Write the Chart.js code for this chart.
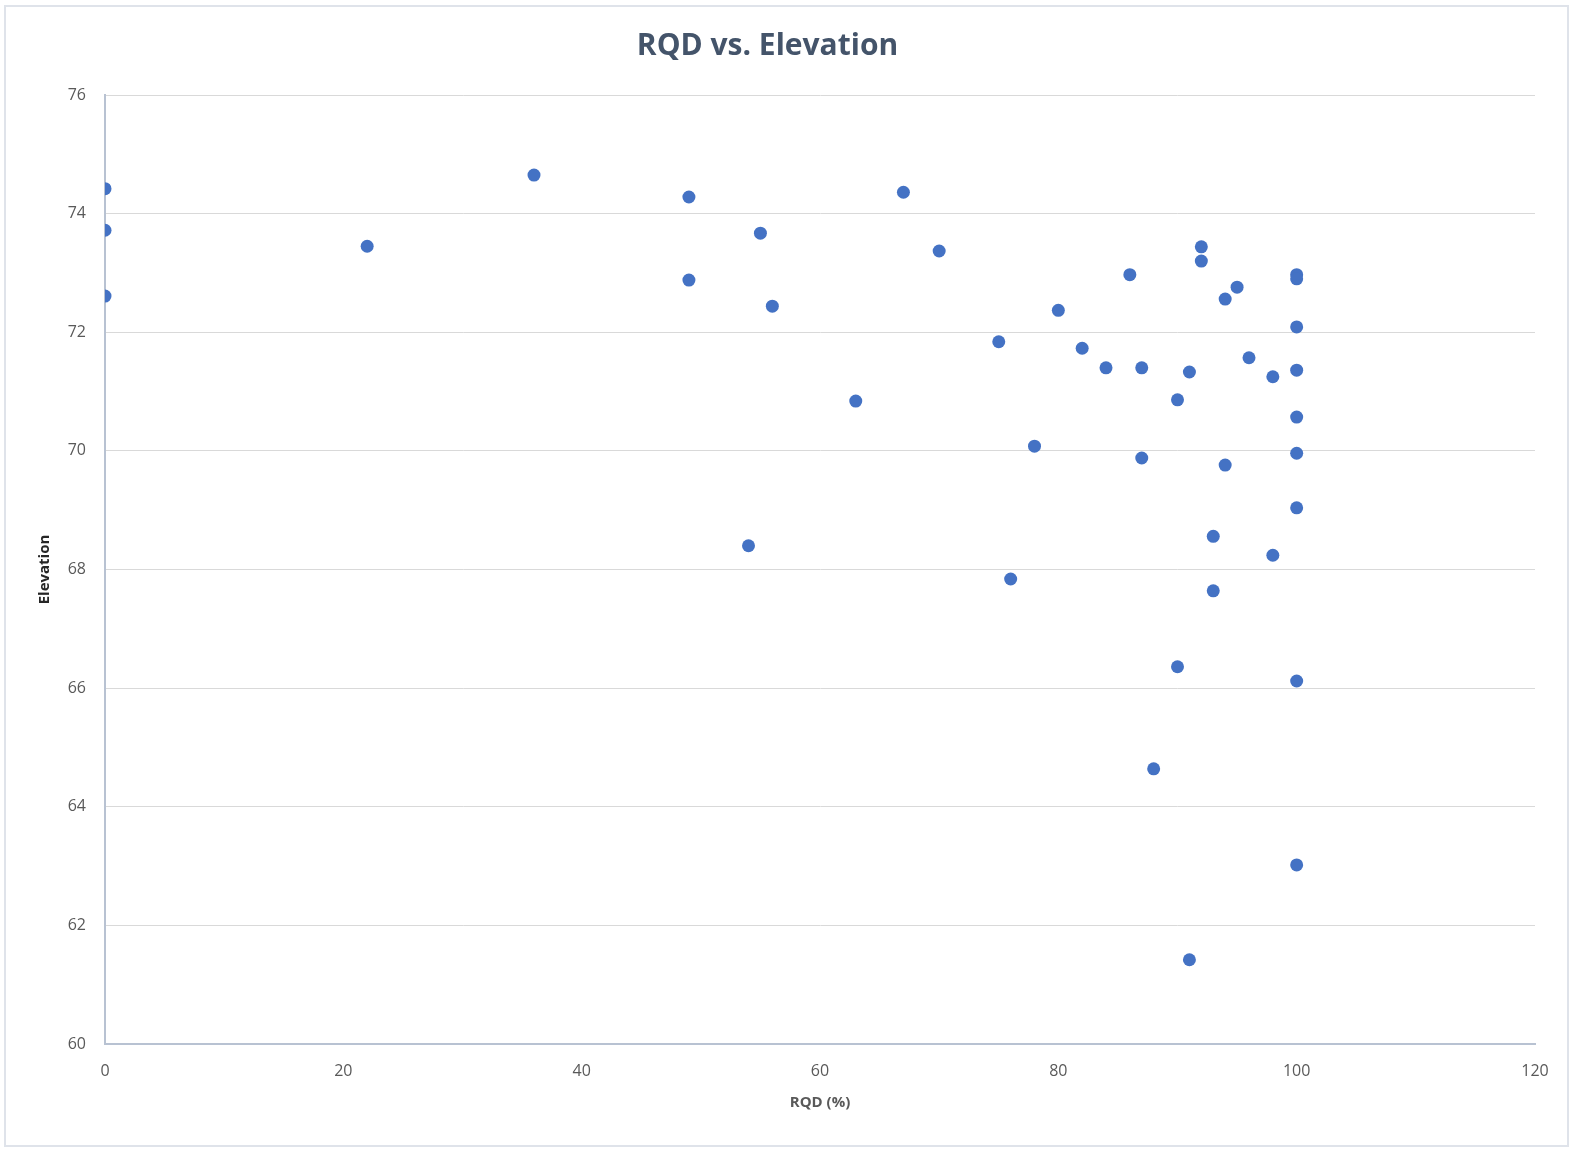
<!DOCTYPE html>
<html>
<head>
<meta charset="utf-8">
<script src="https://cdn.jsdelivr.net/npm/chart.js@4.4.0/dist/chart.umd.min.js"></script>
<style>
  html, body { margin: 0; padding: 0; background: #fff; overflow: hidden; }
  #frame { position: absolute; left: 4px; top: 5px; width: 1561px; height: 1138px; border: 2px solid #dfe3ea; }
  #wrap { position: absolute; left: 0; top: 0; width: 1585px; height: 1160px; }
  canvas { display: block; }
</style>
</head>
<body>
<div id="frame"></div>
<div id="wrap"><canvas id="chart"></canvas></div>
<script>
// RQD (%) et élévation
const rqd = [0, 0, 0, 22, 36, 49, 49, 55, 56, 54, 63, 67, 70, 75, 76, 78, 80, 82, 84, 86, 87, 87, 88, 90, 90, 91, 91, 92, 92, 93, 93, 94, 94, 95, 96, 98, 98, 100, 100, 100, 100, 100, 100, 100, 100, 100];
const elevation = [74.42, 73.72, 72.61, 73.45, 74.65, 74.28, 72.88, 73.67, 72.44, 68.40, 70.84, 74.36, 73.37, 71.84, 67.84, 70.08, 72.37, 71.73, 71.40, 72.97, 71.40, 69.88, 64.64, 70.86, 66.36, 71.33, 61.42, 73.44, 73.20, 68.56, 67.64, 72.56, 69.76, 72.76, 71.57, 71.25, 68.24, 72.97, 72.90, 72.09, 71.36, 70.57, 69.96, 69.04, 66.12, 63.02];
const xTicks = [0, 20, 40, 60, 80, 100, 120];
const yTicks = [60, 62, 64, 66, 68, 70, 72, 74, 76];

document.addEventListener("DOMContentLoaded", () => {
    const points = rqd.map((x, i) => ({ x: x, y: elevation[i] }));
    const ctx = document.getElementById("chart").getContext("2d");

    new Chart(ctx, {
        type: 'scatter',
        data: {
            datasets: [{
                data: points,
                backgroundColor: '#4472C4',
                borderWidth: 0,
                pointRadius: 6.5,
                pointHoverRadius: 6.5
            }]
        },
        options: {
            responsive: true,
            maintainAspectRatio: false,
            animation: false,
            layout: { padding: { left: 0, right: 50, top: 0, bottom: 0 } },
            plugins: {
                legend: { display: false },
                tooltip: { enabled: false },
                title: {
                    display: true,
                    text: 'RQD vs. Elevation',
                    color: '#44546A',
                    font: { family: 'Open Sans', size: 30, weight: 'bold' },
                    padding: { top: 28, bottom: 31 }
                }
            },
            scales: {
                x: {
                    type: 'linear',
                    min: xTicks[0],
                    max: xTicks[xTicks.length - 1],
                    afterBuildTicks: (scale) => { scale.ticks = xTicks.map(v => ({ value: v })); },
                    afterFit: (scale) => { scale.height = 116; },
                    grid: { display: false },
                    border: { display: true, color: '#b8c2d2', width: 2 },
                    ticks: { color: '#595959', font: { family: 'Open Sans', size: 16 }, padding: 10 },
                    title: {
                        display: true,
                        text: 'RQD (%)',
                        color: '#595959',
                        font: { family: 'Open Sans', size: 15, weight: 'bold' },
                        padding: { top: 4, bottom: 48 }
                    }
                },
                y: {
                    type: 'linear',
                    min: yTicks[0],
                    max: yTicks[yTicks.length - 1],
                    afterBuildTicks: (scale) => { scale.ticks = yTicks.map(v => ({ value: v })); },
                    afterFit: (scale) => { scale.width = 105; },
                    grid: { color: '#d9d9d9', lineWidth: 1, drawTicks: false },
                    border: { display: true, color: '#b8c2d2', width: 2 },
                    ticks: { color: '#595959', font: { family: 'Open Sans', size: 16 }, padding: 19 },
                    title: {
                        display: true,
                        text: 'Elevation',
                        color: '#262626',
                        font: { family: 'Open Sans', size: 15, weight: 'bold' },
                        padding: { top: 36, bottom: 0 }
                    }
                }
            }
        }
    });
});
</script>
</body>
</html>
